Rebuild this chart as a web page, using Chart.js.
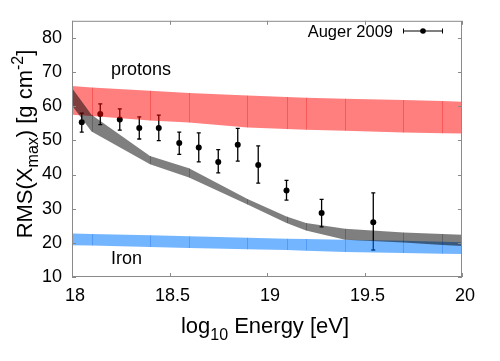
<!DOCTYPE html>
<html>
<head>
<meta charset="utf-8">
<script src="https://cdn.jsdelivr.net/npm/chart.js@4/dist/chart.umd.min.js"></script>
<style>
  html, body { margin: 0; padding: 0; background: #fff; }
  #wrap { width: 500px; height: 361px; }
</style>
</head>
<body>
<div id="wrap"><canvas id="rmsChart"></canvas></div>
<script>
// Auger 2009 measurements (log10 E, RMS and error bar ends)
const augerE   = [18.05, 18.145, 18.245, 18.345, 18.445, 18.55, 18.65, 18.75, 18.85, 18.955, 19.1, 19.28, 19.545];
const augerRms = [55.3, 57.7, 56.1, 53.6, 53.6, 49.2, 47.9, 43.7, 48.7, 42.8, 35.3, 28.7, 26.0];
const augerHi  = [58.0, 60.7, 59.2, 56.9, 57.4, 52.4, 52.2, 47.3, 53.5, 48.4, 38.3, 32.7, 34.6];
const augerLo  = [52.4, 54.6, 53.0, 50.4, 49.9, 45.9, 43.7, 40.5, 43.9, 37.5, 32.5, 24.7, 17.9];

// model bands
const modelE    = [18, 18.1, 18.4, 18.6, 18.9, 19.1, 19.2, 19.4, 19.7, 19.9, 20];
const protonHi  = [65.9, 65.5, 64.5, 63.9, 63.1, 62.7, 62.5, 62.2, 61.8, 61.5, 61.3];
const protonLo  = [57.5, 57.1, 55.8, 55.2, 53.8, 53.3, 53.1, 52.8, 52.3, 52.1, 52.0];
const mixHi     = [65.3, 57.5, 45.4, 41.8, 32.8, 27.7, 25.8, 24.1, 23.0, 22.6, 22.4];
const mixLo     = [60.2, 52.6, 43.0, 39.1, 31.2, 25.8, 23.6, 20.9, 20.1, 19.4, 19.1];
const ironHi    = [22.7, 22.6, 22.2, 21.9, 21.5, 21.2, 21.1, 20.9, 20.6, 20.3, 20.2];
const ironLo    = [19.3, 19.2, 18.8, 18.5, 18.1, 17.9, 17.7, 17.3, 17.0, 16.8, 16.7];

const xTicks = [18, 18.5, 19, 19.5, 20];
const yTicks = [10, 20, 30, 40, 50, 60, 70, 80];

const FONT = '"Liberation Sans", Arial, Helvetica, sans-serif';
const FRAME = '#8a8a8a';

const zip = (xs, ys) => xs.map((x, i) => ({ x, y: ys[i] }));

const bandSet = (ys, color, fill) => ({
    type: 'line',
    data: zip(modelE, ys),
    borderColor: 'transparent',
    borderWidth: 0,
    pointRadius: 0,
    backgroundColor: color,
    fill: fill,
    tension: 0
});

const RED  = 'rgba(255,0,0,0.5)';
const GRAY = 'rgba(0,0,0,0.5)';
const BLUE = 'rgba(0,120,255,0.55)';
const AUGER_IDX = 6;

// draw text pieces with sub/superscripts, starting at x, baseline y
function drawRich(ctx, parts, x, y) {
    parts.forEach(p => {
        ctx.font = p.size + 'px ' + FONT;
        ctx.fillText(p.t, x, y + (p.dy || 0));
        x += ctx.measureText(p.t).width;
    });
}
function richWidth(ctx, parts) {
    return parts.reduce((w, p) => {
        ctx.font = p.size + 'px ' + FONT;
        return w + ctx.measureText(p.t).width;
    }, 0);
}

const decor = {
    id: 'decor',
    afterDatasetDraw(chart, args) {
        if (args.index !== AUGER_IDX) return;
        // error bars of the Auger points
        const { ctx, scales: { x, y } } = chart;
        ctx.save();
        ctx.strokeStyle = '#000';
        ctx.lineWidth = 1.3;
        augerE.forEach((e, i) => {
            const px = x.getPixelForValue(e);
            const top = y.getPixelForValue(augerHi[i]);
            const bot = y.getPixelForValue(augerLo[i]);
            ctx.beginPath();
            ctx.moveTo(px, top); ctx.lineTo(px, bot);
            ctx.moveTo(px - 2, top); ctx.lineTo(px + 2, top);
            ctx.moveTo(px - 2, bot); ctx.lineTo(px + 2, bot);
            ctx.stroke();
        });
        ctx.restore();
    },
    afterDatasetsDraw(chart) {
        const { ctx, chartArea: a, scales: { x, y } } = chart;
        ctx.save();

        // seams between band segments
        ctx.lineWidth = 1;
        [[protonHi, protonLo, 'rgba(230,0,0,0.3)'],
         [mixHi, mixLo, 'rgba(0,0,0,0.22)'],
         [ironHi, ironLo, 'rgba(0,90,230,0.28)']].forEach(([hi, lo, c]) => {
            ctx.strokeStyle = c;
            modelE.slice(1, -1).forEach((e, k) => {
                const px = Math.round(x.getPixelForValue(e)) + 0.5;
                ctx.beginPath();
                ctx.moveTo(px, y.getPixelForValue(hi[k + 1]));
                ctx.lineTo(px, y.getPixelForValue(lo[k + 1]));
                ctx.stroke();
            });
        });

        // frame and inward ticks
        ctx.strokeStyle = FRAME;
        ctx.lineWidth = 1;
        ctx.strokeRect(a.left + 0.5, a.top + 0.5, a.right - a.left - 1, a.bottom - a.top - 1);
        ctx.beginPath();
        xTicks.forEach(v => {
            const px = Math.round(x.getPixelForValue(v)) + 0.5;
            ctx.moveTo(px, a.bottom); ctx.lineTo(px, a.bottom - 4);
            ctx.moveTo(px, a.top); ctx.lineTo(px, a.top + 4);
        });
        yTicks.forEach(v => {
            const py = Math.round(y.getPixelForValue(v)) + 0.5;
            ctx.moveTo(a.left, py); ctx.lineTo(a.left + 4, py);
            ctx.moveTo(a.right, py); ctx.lineTo(a.right - 4, py);
        });
        ctx.stroke();

        // band labels
        ctx.fillStyle = '#000';
        ctx.textBaseline = 'alphabetic';
        ctx.textAlign = 'left';
        ctx.font = '18px ' + FONT;
        ctx.fillText('protons', 111, 75);
        ctx.fillText('Iron', 111, 264);

        // legend
        ctx.font = '16.5px ' + FONT;
        ctx.textAlign = 'right';
        ctx.fillText('Auger 2009', 393, 36.5);
        ctx.strokeStyle = '#000';
        ctx.beginPath();
        ctx.moveTo(403, 31); ctx.lineTo(443, 31);
        ctx.moveTo(403.5, 28.5); ctx.lineTo(403.5, 33.5);
        ctx.moveTo(442.5, 28.5); ctx.lineTo(442.5, 33.5);
        ctx.stroke();
        ctx.beginPath();
        ctx.arc(423, 31, 2.8, 0, Math.PI * 2);
        ctx.fill();

        // axis titles
        ctx.textAlign = 'left';
        const xt = [
            { t: 'log', size: 22 },
            { t: '10', size: 16, dy: 7 },
            { t: ' Energy [eV]', size: 22 }
        ];
        drawRich(ctx, xt, 265 - richWidth(ctx, xt) / 2, 333);

        const yt = [
            { t: 'RMS(X', size: 22 },
            { t: 'max', size: 16, dy: 6 },
            { t: ') [g cm', size: 22 },
            { t: '-2', size: 16, dy: -9 },
            { t: ']', size: 22 }
        ];
        ctx.translate(31.5, 144);
        ctx.rotate(-Math.PI / 2);
        drawRich(ctx, yt, -richWidth(ctx, yt) / 2, 0);
        ctx.restore();
    }
};

new Chart(document.getElementById('rmsChart'), {
    type: 'scatter',
    data: {
        datasets: [
            bandSet(mixHi, GRAY, '+1'),
            bandSet(mixLo, GRAY, false),
            bandSet(protonHi, RED, '+1'),
            bandSet(protonLo, RED, false),
            bandSet(ironHi, BLUE, '+1'),
            bandSet(ironLo, BLUE, false),
            { type: 'scatter', label: 'Auger 2009', data: zip(augerE, augerRms),
              pointRadius: 3, pointHoverRadius: 3, backgroundColor: '#000', borderWidth: 0 }
        ]
    },
    options: {
        responsive: true,
        maintainAspectRatio: false,
        animation: false,
        events: [],
        layout: { padding: { left: 0, top: 19, right: 38, bottom: 0 } },
        plugins: { legend: { display: false }, tooltip: { enabled: false } },
        scales: {
            x: {
                type: 'linear', min: 18, max: 20,
                grid: { display: false, drawTicks: false },
                border: { display: false },
                ticks: { padding: 8, labelOffset: 3, color: '#000', maxRotation: 0,
                         font: { family: FONT, size: 18 },
                         callback: v => String(+v) },
                afterBuildTicks: s => { s.ticks = xTicks.map(v => ({ value: v })); },
                afterFit: s => { s.height = 84; }
            },
            y: {
                min: 10, max: 85,
                grid: { display: false, drawTicks: false },
                border: { display: false },
                ticks: { padding: 10, color: '#000',
                         font: { family: FONT, size: 18 },
                         callback: v => String(+v) },
                afterBuildTicks: s => { s.ticks = yTicks.map(v => ({ value: v })); },
                afterFit: s => { s.width = 72; }
            }
        }
    },
    plugins: [decor]
});
</script>
</body>
</html>
